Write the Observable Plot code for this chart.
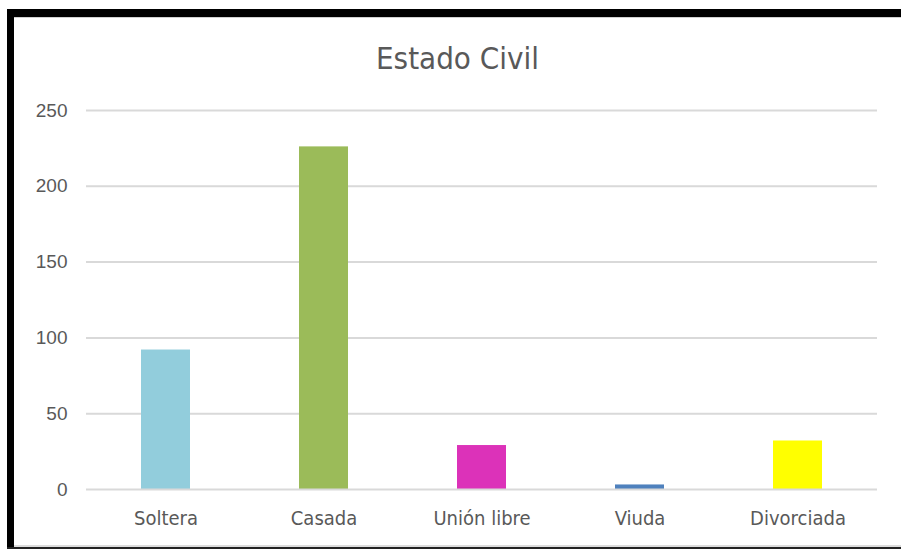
<!DOCTYPE html>
<html><head><meta charset="utf-8">
<script src="https://cdn.jsdelivr.net/npm/d3@7"></script>
<script src="https://cdn.jsdelivr.net/npm/@observablehq/plot@0.6"></script>
<style>
body{margin:0;background:#fff;}
#frame{position:relative;width:901px;height:549px;overflow:hidden;background:#fff;}
.bt{position:absolute;left:7px;top:9px;width:894px;height:8px;background:#000;}
.btg{position:absolute;left:14px;top:17px;width:887px;height:1px;background:#d0d0d0;}
.bl{position:absolute;left:7px;top:9px;width:7px;height:540px;background:#000;}
.bg{position:absolute;left:14px;top:545px;width:887px;height:2px;background:#dcdcdc;}
.bb{position:absolute;left:7px;top:547px;width:894px;height:2px;background:#222;}
#title{position:absolute;left:14px;width:887px;top:40px;text-align:center;font-family:"Liberation Sans Narrow","DejaVu Sans Condensed",sans-serif;font-size:31px;color:#595959;line-height:36px;}
#chart{position:absolute;left:0;top:90px;}
</style>
</head><body>
<div id="frame">
<div class="bt"></div><div class="btg"></div><div class="bl"></div><div class="bg"></div><div class="bb"></div>
<div id="title">Estado Civil</div>
<div id="chart"></div>
</div>
<script>
const categories = ["Soltera", "Casada", "Unión libre", "Viuda", "Divorciada"];
const values = [92, 226, 29, 3, 32];
const colors = ["#92CDDC", "#9BBB59", "#DC32B9", "#4F81BD", "#FFFF00"];
const yTicks = [0, 50, 100, 150, 200, 250];

const data = categories.map((c, i) => ({c, v: values[i], col: colors[i]}));

const chart = Plot.plot({
  width: 901,
  height: 450,
  marginLeft: 86,
  marginRight: 24,
  marginTop: 20,
  marginBottom: 51,
  style: {color: "#595959", background: "transparent", overflow: "visible"},
  x: {domain: categories, paddingInner: 0.687, paddingOuter: 0.3435, label: null},
  y: {domain: [0, 250], label: null},
  marks: [
    Plot.ruleY(yTicks.filter(d => d > 0), {stroke: "#D9D9D9", strokeWidth: 2}),
    Plot.barY(data, {x: "c", y: "v", fill: "col"}),
    Plot.ruleY([0], {stroke: "#D9D9D9", strokeWidth: 2}),
    Plot.axisY(yTicks, {tickSize: 0, tickPadding: 19, fontSize: 19, fontFamily: "Liberation Sans, sans-serif", label: null}),
    Plot.axisX({tickSize: 0, tickPadding: 21, fontSize: 20, fontFamily: "Liberation Sans Narrow, DejaVu Sans Condensed, sans-serif", label: null})
  ]
});
document.getElementById("chart").appendChild(chart);
</script>
</body></html>
